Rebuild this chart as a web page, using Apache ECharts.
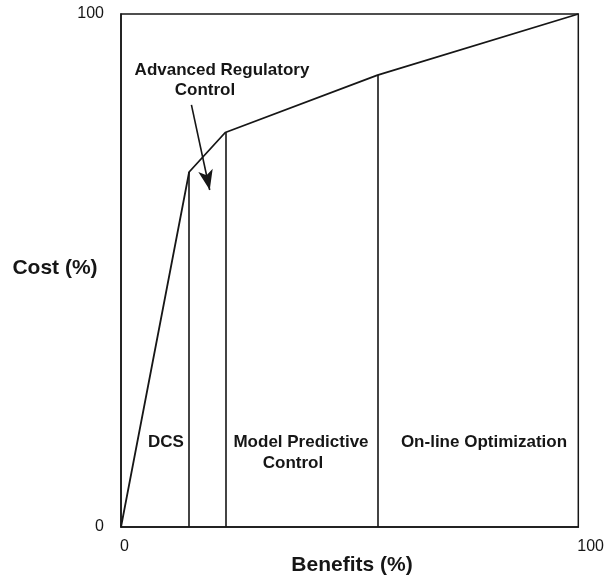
<!DOCTYPE html>
<html>
<head>
<meta charset="utf-8">
<script src="https://cdn.jsdelivr.net/npm/echarts@6/dist/echarts.min.js"></script>
<style>
html,body{margin:0;padding:0;background:#fff;}
#c{width:607px;height:583px;}
</style>
</head>
<body>
<div id="c"></div>
<script>
// Data
var benefits = [0, 14.9, 22.8, 56.1, 100];
var cost = [0, 69.2, 76.9, 88.1, 100];
var dropIndices = [1, 2, 3];
var arrowFrom = [15.4, 82.3];
var arrowTo = [19.4, 65.7];
var xTicks = [0, 100];
var yTicks = [0, 100];
var xTitle = 'Benefits (%)';
var yTitle = 'Cost (%)';
var annotations = [
  {text: 'Advanced Regulatory', x: 222, y: 70},
  {text: 'Control', x: 205, y: 90},
  {text: 'DCS', x: 166, y: 442},
  {text: 'Model Predictive', x: 301, y: 442},
  {text: 'Control', x: 293, y: 463},
  {text: 'On-line Optimization', x: 484, y: 442}
];

var FONT = '"Liberation Sans", Arial, Helvetica, sans-serif';
var INK = '#161616';

var chart = echarts.init(document.getElementById('c'), null, {renderer: 'canvas'});

var curveData = benefits.map(function (b, i) { return [b, cost[i]]; });
var dropLines = dropIndices.map(function (i) {
  return [{coord: [benefits[i], 0]}, {coord: [benefits[i], cost[i]]}];
});

var graphics = annotations.map(function (a) {
  return {
    type: 'text', x: a.x, y: a.y,
    style: {text: a.text, font: 'bold 17px ' + FONT, fill: INK, textAlign: 'center', textVerticalAlign: 'middle'}
  };
});
graphics.push({type: 'text', x: 55, y: 268, style: {text: yTitle, font: 'bold 21px ' + FONT, fill: INK, textAlign: 'center', textVerticalAlign: 'middle'}});
graphics.push({type: 'text', x: 352, y: 565, style: {text: xTitle, font: 'bold 21px ' + FONT, fill: INK, textAlign: 'center', textVerticalAlign: 'middle'}});

chart.setOption({
  animation: false,
  backgroundColor: '#fff',
  grid: {left: 121, right: 27, top: 14, bottom: 56, show: true, borderColor: INK, borderWidth: 1.5, backgroundColor: 'transparent'},
  xAxis: {
    type: 'value', min: xTicks[0], max: xTicks[xTicks.length - 1], interval: 100,
    axisLine: {show: true, lineStyle: {color: INK, width: 1.5}},
    axisTick: {show: false}, splitLine: {show: false},
    axisLabel: {color: INK, fontSize: 16, fontFamily: FONT, align: 'left', margin: 12, padding: [0, 0, 0, -1]}
  },
  yAxis: {
    type: 'value', min: yTicks[0], max: yTicks[yTicks.length - 1], interval: 100,
    axisLine: {show: true, lineStyle: {color: INK, width: 1.5}},
    axisTick: {show: false}, splitLine: {show: false},
    axisLabel: {color: INK, fontSize: 16, fontFamily: FONT, margin: 17}
  },
  series: [{
    type: 'line',
    data: curveData,
    showSymbol: false,
    symbol: 'none',
    lineStyle: {color: INK, width: 1.8},
    silent: true,
    markLine: {
      silent: true,
      symbol: ['none', 'none'],
      label: {show: false},
      lineStyle: {color: INK, width: 1.6, type: 'solid'},
      data: dropLines.concat([[
        {coord: arrowFrom, symbol: 'none'},
        {coord: arrowTo, symbol: 'arrow', symbolSize: [11, 20]}
      ]])
    }
  }],
  graphic: graphics
});
</script>
</body>
</html>
